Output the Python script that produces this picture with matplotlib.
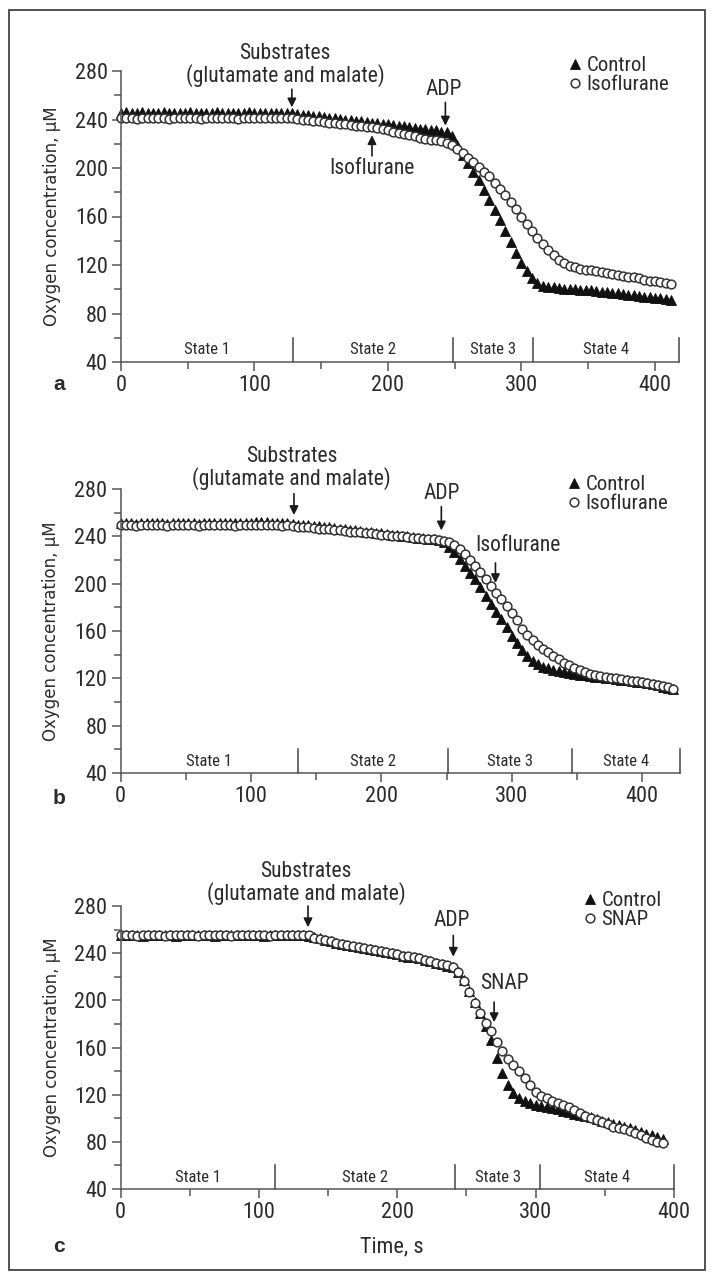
import numpy as np
import matplotlib
matplotlib.use('Agg')
import matplotlib.pyplot as plt
from matplotlib import font_manager
from matplotlib.patches import Rectangle
from matplotlib.ticker import MultipleLocator

# pick a narrow sans if one is around, else plain Liberation Sans
names = {f.name for f in font_manager.fontManager.ttflist}
main_font = 'Liberation Sans'
for cand in ['Liberation Sans Narrow', 'Roboto Condensed', 'Open Sans Condensed', 'Noto Sans Condensed']:
    if cand in names:
        main_font = cand
        break
plt.rcParams['font.family'] = [main_font, 'DejaVu Sans']

# ---- data (sampled every 4 s) ----
# panel a
t_a = np.arange(0, 413, 4)
ctrl_a = [245, 246, 245, 245.5, 246, 245, 245, 245.5, 246, 245, 245, 245.5, 245, 246, 245,
          245, 245.5, 245, 246, 245, 245, 245.5, 245, 245, 246, 245, 245, 245.5, 245, 245,
          245.5, 245, 245,
          244.5, 244, 243.5, 243, 242.5, 242, 241.5, 241, 240.5, 240, 239.5, 239, 238.5, 238,
          237.5, 237, 236.5, 236, 235.5, 235, 234.5, 234, 233, 232.5, 232, 231.5, 231, 230, 229.5,
          226, 219, 211, 204, 197, 190, 182, 174, 165, 157, 148, 139, 130, 122, 115, 109, 105,
          103, 102, 101.5, 101, 100.5, 100, 99.8, 99.5, 99.2, 99, 98.5, 98, 97.5, 97, 96.5, 96,
          95.5, 95, 94.5, 94, 93.5, 93, 92.5, 92, 91.5]
iso_a = [241, 241.5, 241, 240.5, 241, 241, 241.5, 241, 241, 240.5, 241, 241, 241.5, 241, 241,
         240.5, 241, 241, 241.5, 241, 241, 241, 240.5, 241, 241.5, 241, 241, 241, 241.5, 241,
         241, 241.5, 241,
         240.5, 240, 239.5, 239, 238.5, 238, 237.5, 237, 236.5, 236, 235.5, 235, 234.5, 234,
         233.5, 233, 232, 231, 230, 229, 228, 227, 226, 225, 224, 223.5, 223, 222, 221,
         219, 216, 212, 208, 205, 201, 197, 193, 188, 183, 178, 172, 166, 160, 154, 148, 142,
         137, 132, 128, 124, 121.5, 119.5, 118, 117, 116, 115.5, 115, 114, 113, 112.5, 112, 111,
         110.5, 110, 109, 108, 107, 106.5, 106, 105, 104]

# panel b
t_b = np.arange(0, 425, 4)
ctrl_b = [251, 251.5, 251, 250.5, 251, 251, 251.5, 251, 251, 250.5, 251, 251, 251.5, 251, 251,
          250.5, 251, 251, 251.5, 251, 251, 251, 251, 251.5, 251, 251, 252, 252, 252, 251.5,
          251.5, 251, 251,
          250.5, 250, 250, 249.5, 249, 248.5, 248, 247.5, 247, 246.5, 246, 245.5, 245, 244.5,
          244, 243.5, 243, 242.5, 242, 241.5, 241, 240.5, 240, 239.5, 239, 238.5, 238, 237.5, 237,
          235, 231, 227, 221, 215, 209, 204, 197, 190, 183, 176, 170, 163, 156, 150, 144, 139, 135,
          132, 130, 128.5, 127, 126, 125, 124.5, 124, 123, 122.5, 122, 121.5, 121, 120.5, 120,
          119.5, 119, 118.5, 118, 117, 116.5, 116, 115, 114, 113, 112, 111]
iso_b = [249.5, 250, 249.5, 249, 249.5, 249.5, 250, 249.5, 249.5, 249, 249.5, 249.5, 250, 249.5,
         249.5, 249, 249.5, 249.5, 250, 249.5, 249.5, 249.5, 249, 249.5, 250, 249.5, 249.5, 249.5,
         250, 249.5, 249.5, 249, 249.5,
         248.5, 248, 248, 247.5, 247, 246.5, 246.5, 246, 245.5, 245, 244.5, 244, 243.5, 243.5,
         243, 242.5, 242, 241.5, 241, 240.5, 240, 240, 239.5, 239, 238.5, 238, 238, 237.5, 237,
         236, 235, 233, 229, 225, 220, 215, 210, 204, 198, 192, 187, 181, 175, 169, 162, 157, 152,
         148, 145, 142, 139, 136, 133, 131, 129, 127, 125.5, 124, 123, 122, 121, 120.5, 120,
         119.5, 119, 118, 117.5, 117, 116, 115, 114, 113.5, 112.5, 111]

# panel c
t_c = np.arange(0, 393, 4)
ctrl_c = [255, 255.5, 255, 255, 254.5, 255, 255, 255.5, 255, 255, 254.5, 255, 255, 255.5, 255,
          255, 255, 254.5, 255, 255.5, 255, 255, 255, 255.5, 255, 255, 254.5, 255, 255, 255.5,
          255, 255, 255.5, 255,
          254.5, 253.5, 252.5, 251.5, 250.5, 249, 248, 247, 246, 245.5, 244.5, 243.5, 242.5, 242,
          241, 240, 239, 238, 237, 236.5, 235.5, 234.5, 233, 232, 231, 229.5, 228,
          224, 217, 208, 199, 189, 178, 166, 151, 138, 128, 121, 117, 114.5, 113,
          111.5, 110.5, 109.5, 108.5, 107.5, 106.5, 105.5, 104, 103, 102, 101, 99.5, 98, 97,
          95.5, 94, 93, 91.5, 90, 88.5, 87, 85.5, 84, 82.5]
snap_c = [255.5, 255, 255, 254.5, 255, 255.5, 255, 255, 254.5, 255, 255, 255.5, 255, 255, 254.5,
          255, 255.5, 255, 255, 255, 254.5, 255, 255.5, 255, 255, 255, 255, 254.5, 255, 255.5,
          255, 255, 255, 255.5,
          255, 253, 252, 251.5, 250, 249, 248, 247, 246.5, 245, 244, 243.5, 242.5, 241.5, 241,
          240, 239, 238, 237.5, 236.5, 235.5, 234.5, 233.5, 232, 231, 230, 228,
          224, 216, 207, 198, 189, 181, 174, 165, 157, 150, 145, 140, 134, 128,
          122, 119, 117, 115, 113, 111, 109.5, 107, 104.5, 102, 100, 98.5, 97, 95, 93, 92, 91,
          89.5, 87.5, 85.5, 83.5, 81.5, 80, 79]

state_names = ['State 1', 'State 2', 'State 3', 'State 4']
edges_a = [0, 129, 249, 309, 418]
edges_b = [0, 136, 251, 346, 429]
edges_c = [0, 112, 242, 303, 400]

W, H = 713, 1278
TXT = '#2b2b2b'
AXC = '#555555'

fig = plt.figure(figsize=(W / 100, H / 100), dpi=100)
fig.patches.append(Rectangle((9 / W, 1 - 1270 / H), 696 / W, 1260 / H, transform=fig.transFigure,
                             fill=False, ec='#444444', lw=1.3))


def draw_panel(box, t, ctrl, trt, trt_name, edges, notes, arrows, leg_anchor, letter, letter_y):
    l, top, r, bot = box
    ax = fig.add_axes([l / W, 1 - bot / H, (r - l) / W, (bot - top) / H])
    ax.plot(t, ctrl, ls='none', marker='^', ms=7, mfc='#111111', mec='#111111', mew=0.6,
            clip_on=False, label='Control')
    ax.plot(t, trt, ls='none', marker='o', ms=6.3, mfc='white', mec='#333333', mew=1.1,
            clip_on=False, label=trt_name)
    ax.set_xlim(0, edges[-1])
    ax.set_ylim(40, 280)
    for s in ['top', 'right']:
        ax.spines[s].set_visible(False)
    for s in ['left', 'bottom']:
        ax.spines[s].set_color(AXC)
        ax.spines[s].set_linewidth(1.1)
    ax.set_xticks(np.arange(0, edges[-1] + 1, 100))
    ax.xaxis.set_minor_locator(MultipleLocator(50))
    ax.set_yticks(np.arange(40, 281, 40))
    ax.yaxis.set_minor_locator(MultipleLocator(20))
    ax.tick_params(which='major', direction='out', length=6.5, width=1.1, color=AXC,
                   labelsize=16, labelcolor=TXT, pad=3)
    ax.tick_params(which='minor', direction='out', length=5, width=1.1, color=AXC)
    ax.set_ylabel('Oxygen concentration, \u03bcM', family='DejaVu Sans', fontsize=12, color=TXT)
    ax.yaxis.set_label_coords(-0.108, 0.5)

    # state bands
    for e in edges[1:]:
        ax.plot([e, e], [40, 60], color='#444444', lw=1.1, clip_on=False)
    for i, name in enumerate(state_names):
        ax.text((edges[i] + edges[i + 1]) / 2, 50, name, ha='center', va='center',
                fontsize=12, color=TXT)

    for txt, x, y in notes:
        ax.text(x, y, txt, ha='center', va='center', fontsize=15.5, color=TXT,
                linespacing=1.0, clip_on=False)
    for x, y0, y1 in arrows:
        ax.annotate('', xy=(x, y1), xytext=(x, y0), annotation_clip=False,
                    arrowprops=dict(arrowstyle='-|>', color='#1a1a1a', lw=1.2,
                                    mutation_scale=13, shrinkA=0, shrinkB=0))

    ax.legend(loc='upper left', bbox_to_anchor=leg_anchor, frameon=False, borderpad=0,
              borderaxespad=0, handlelength=0.6, handletextpad=0.25, labelspacing=0.0,
              fontsize=15, labelcolor=TXT, markerscale=1.0)
    fig.text(59 / W, 1 - letter_y / H, letter, ha='center', va='center', fontsize=15,
             fontweight='bold', family=['Liberation Sans', 'DejaVu Sans'], color=TXT)
    return ax


draw_panel((121, 71, 679, 362), t_a, ctrl_a, iso_a, 'Isoflurane', edges_a,
           [('Substrates\n(glutamate and malate)', 123, 285), ('ADP', 242, 265),
            ('Isoflurane', 188, 200)],
           [(128, 265, 250), (243, 254, 235), (188, 210, 227)],
           (0.803, 1.05), 'a', 385)

draw_panel((120.5, 489, 680, 773), t_b, ctrl_b, iso_b, 'Isoflurane', edges_b,
           [('Substrates\n(glutamate and malate)', 131, 297.5), ('ADP', 246, 276.5),
            ('Isoflurane', 305, 232)],
           [(133, 276, 258), (246, 265, 245), (287.5, 217.5, 200.5)],
           (0.800, 1.048), 'b', 798)

ax_c = draw_panel((120.5, 906, 674, 1189), t_c, ctrl_c, snap_c, 'SNAP', edges_c,
                  [('Substrates\n(glutamate and malate)', 134, 299.5), ('ADP', 239.5, 268),
                   ('SNAP', 277.5, 214)],
                  [(135.5, 280, 262), (240.5, 255, 237), (270, 198.5, 181.5)],
                  (0.837, 1.052), 'c', 1247)
ax_c.text(0.49, -0.205, 'Time, s', transform=ax_c.transAxes, ha='center', va='center',
          fontsize=16, color=TXT)

fig.savefig('out.png', dpi=100)
